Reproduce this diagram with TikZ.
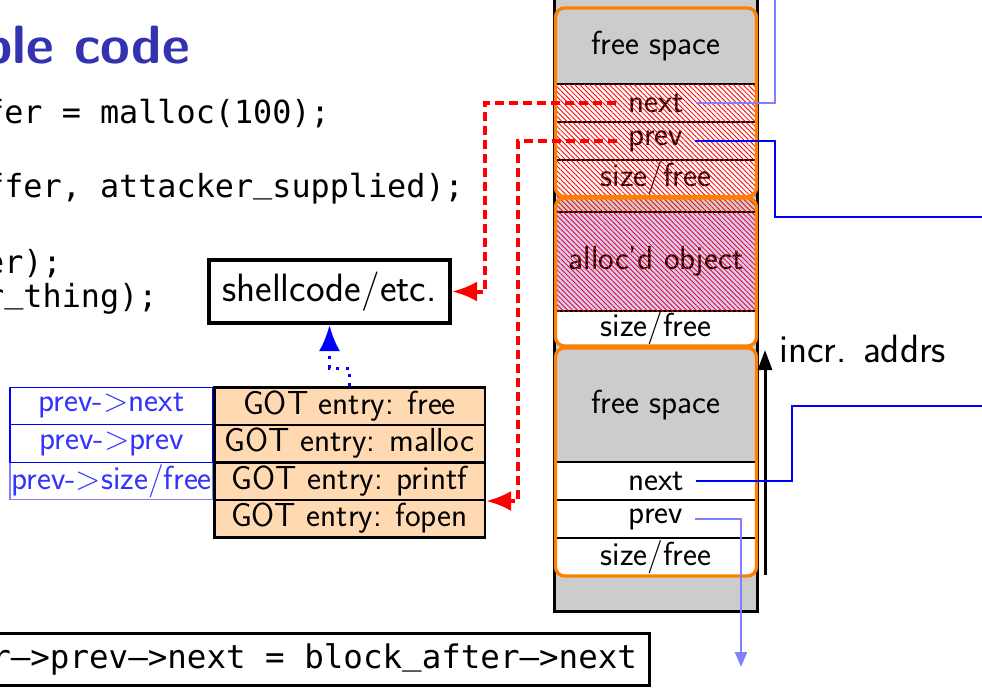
\documentclass[tikz,border=0pt]{standalone}
\usepackage{fontspec}
\setmonofont{DejaVu Sans Mono}
\usetikzlibrary{arrows.meta,patterns.meta}

\definecolor{framettl}{rgb}{0.2,0.2,0.7}
\definecolor{freegray}{gray}{0.8}
\definecolor{objlav}{rgb}{0.8,0.8,1}
\definecolor{gotpeach}{rgb}{1,0.85,0.7}
\definecolor{chunkorange}{rgb}{1,0.5,0}
\definecolor{lightblue}{rgb}{0.5,0.5,1}
\definecolor{tblblue}{rgb}{0.2,0.2,1}

\newcommand{\normsz}{\fontsize{33.3}{40}\selectfont}
\newcommand{\bigsz}{\fontsize{39.5}{47}\selectfont}
\newcommand{\codesz}{\fontsize{31.8}{38}\selectfont}
\newcommand{\boxcodesz}{\fontsize{32.5}{39}\selectfont}
% underscore sitting closer to the baseline
\newcommand{\us}{\raisebox{0.13em}{\_}}

\begin{document}
\begin{tikzpicture}[x=1pt,y=-1pt,
  lbl/.style={font=\sffamily\normsz, inner xsep=11.5pt, inner ysep=0pt},
  codeline/.style={font=\ttfamily\codesz, anchor=base west, inner sep=0pt},
  gotrow/.style={draw, line width=2.5pt, fill=gotpeach, minimum width=270.5pt,
    minimum height=37.5pt, inner sep=0pt, font=\sffamily\normsz},
  ptrrow/.style={draw=blue, line width=1.3pt, minimum width=203pt,
    minimum height=37.5pt, inner sep=0pt, font=\sffamily\normsz, text=tblblue},
  rowline/.style={line width=2pt},
  chunkborder/.style={draw=chunkorange, line width=3.3pt, rounded corners=9pt},
  overwrite/.style={red, line width=4pt, dash pattern=on 9pt off 5pt,
    -{Latex[length=25pt,width=20pt]}},
  link/.style={line width=2pt}
]
\useasboundingbox (0,0) rectangle (982,688);
\clip (0,0) rectangle (982,688);

% title and code fragments
\node[font=\sffamily\bfseries\fontsize{54}{60}\selectfont, text=framettl,
  anchor=base east, inner sep=0pt] (title) at (190,63) {ble code};
\node[codeline] (l1) at (-15,123) {fer = malloc(100);};
\node[codeline] (l2) at (-15,197) {ffer, attacker\us supplied);};
\node[codeline] (l3) at (-15,273) {er);};
\node[codeline] (l4) at (-15,307) {r\us thing);};

% heap column
\fill[freegray] (554.5,-10) rectangle (757.5,611.5);
\draw[line width=3pt] (554.5,-10) -- (554.5,611.5) -- (757.5,611.5) -- (757.5,-10);

% chunk 1
\begin{scope}
  \clip[rounded corners=9pt] (555.5,8) rectangle (756.5,196.5);
  \fill[white] (555,8) rectangle (757,197);
  \fill[freegray] (555,8) rectangle (757,84);
  \draw[rowline] (555,84) -- (757,84) (555,122) -- (757,122) (555,160) -- (757,160);
\end{scope}
% chunk 2
\begin{scope}
  \clip[rounded corners=9pt] (555.5,198) rectangle (756.5,346);
  \fill[white] (555,198) rectangle (757,346);
  \fill[freegray] (555,198) rectangle (757,212);
  \fill[objlav] (555,212) rectangle (757,311);
  \draw[rowline] (555,212) -- (757,212) (555,311) -- (757,311);
\end{scope}
% chunk 3
\begin{scope}
  \clip[rounded corners=9pt] (555.5,348) rectangle (756.5,576);
  \fill[white] (555,348) rectangle (757,576);
  \fill[freegray] (555,348) rectangle (757,462);
  \draw[rowline] (555,462) -- (757,462) (555,500) -- (757,500) (555,538) -- (757,538);
\end{scope}

\node[lbl] (fs1) at (656,46) {free space};
\node[lbl] (nx1) at (656,103) {next};
\node[lbl] (pv1) at (656,141) {prev};
\node[lbl] (sz1) at (656,178) {size/free};
\node[lbl] (obj) at (656,261.5) {alloc'd object};
\node[lbl] (sz2) at (656,328.5) {size/free};
\node[lbl] (fs3) at (656,405) {free space};
\node[lbl] (nx3) at (656,481) {next};
\node[lbl] (pv3) at (656,519) {prev};
\node[lbl] (sz3) at (656,557) {size/free};

% overflowed region
\fill[pattern={Lines[angle=-45,distance=3.5pt,line width=0.85pt]}, pattern color=red]
  (556.5,84) rectangle (755.5,311);

\draw[chunkborder] (555.5,8) rectangle (756.5,196.5);
\draw[chunkborder] (555.5,198) rectangle (756.5,346);
\draw[chunkborder] (555.5,348) rectangle (756.5,576);

% address direction
\coordinate (incrlo) at (765,575);
\coordinate (incrhi) at (765,350);
\draw[line width=3pt, -{Triangle[length=20pt,width=14pt]}] (incrlo) -- (incrhi);
\node[font=\sffamily\bigsz, anchor=base west, inner sep=0pt] (incr) at (779,362) {incr. addrs};

% pointer targets
\node[ptrrow, draw=lightblue] (tsz) at (111.5,481) {prev->size/free};
\node[ptrrow] (tnx) at (111.5,406) {prev->next};
\node[ptrrow] (tpv) at (111.5,443.5) {prev->prev};

% GOT
\node[gotrow] (gfree) at (349.5,406) {GOT entry: free};
\node[gotrow] (gmalloc) at (349.5,443.5) {GOT entry: malloc};
\node[gotrow] (gprintf) at (349.5,481) {GOT entry: printf};
\node[gotrow] (gfopen) at (349.5,518.5) {GOT entry: fopen};

\node[draw, line width=4pt, minimum width=241pt, minimum height=63pt, inner sep=0pt,
  font=\sffamily\bigsz] (shell) at (329.5,291.5) {shellcode/etc.};

\node[draw, line width=3pt, anchor=east, font=\ttfamily\boxcodesz, inner xsep=12pt,
  inner ysep=0pt, minimum height=51.5pt] (assign) at (650.5,659.25)
  {r—>prev—>next = block\us after—>next};

% overwritten pointers
\coordinate (r1) at (485,200);
\coordinate (r2) at (518,300);
\draw[overwrite] (nx1.west) -| (r1) |- (shell.east);
\draw[overwrite] (pv1.west) -| (r2) |- (gprintf.south east);

\draw[blue, line width=3pt, dash pattern=on 3pt off 6.5pt,
  -{Latex[length=26pt,width=21pt]}] (gfree.north) -- ++(0,-18) -| (shell.south);

% list links
\coordinate (b1) at (775,-5);
\coordinate (b2) at (775,216.5);
\coordinate (b2e) at (990,216.5);
\coordinate (b3) at (792,405.5);
\coordinate (b3e) at (990,405.5);
\coordinate (b4) at (741,667);
\draw[link, lightblue] (nx1.east) -| (b1);
\draw[link, blue] (pv1.east) -| (b2) -- (b2e);
\draw[link, blue] (nx3.east) -| (b3) -- (b3e);
\draw[link, lightblue, -{Triangle[length=15pt,width=12pt]}] (pv3.east) -| (b4);
\end{tikzpicture}
\end{document}
